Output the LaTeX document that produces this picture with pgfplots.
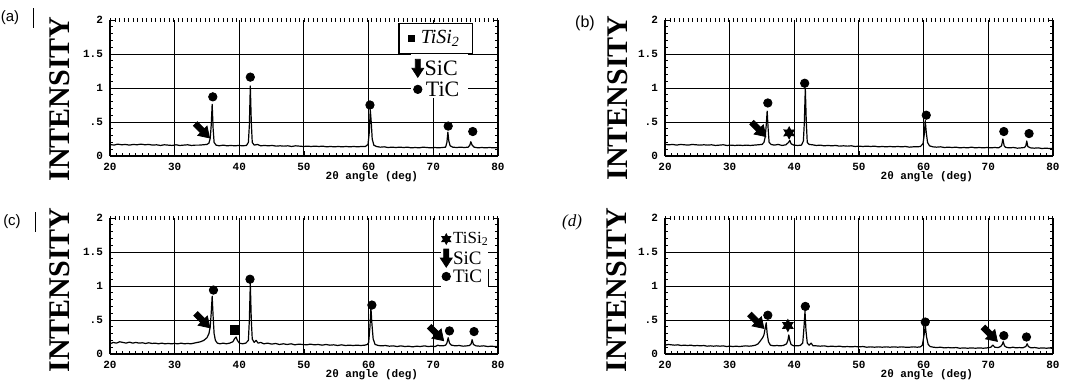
\documentclass[border=0pt]{standalone}
\usepackage{fontspec}
\setmainfont{Liberation Serif}
\setsansfont{Liberation Sans}
\setmonofont{Liberation Mono}
\usepackage{pgfplots}
\pgfplotsset{compat=1.18}
\usetikzlibrary{plotmarks}

\pgfdeclareplotmark{sicarrow}{%
  \pgfpathmoveto{\pgfpoint{-0.28\pgfplotmarksize}{1.0\pgfplotmarksize}}%
  \pgfpathlineto{\pgfpoint{0.28\pgfplotmarksize}{1.0\pgfplotmarksize}}%
  \pgfpathlineto{\pgfpoint{0.28\pgfplotmarksize}{0.0\pgfplotmarksize}}%
  \pgfpathlineto{\pgfpoint{0.65\pgfplotmarksize}{0.0\pgfplotmarksize}}%
  \pgfpathlineto{\pgfpoint{0pt}{-1.0\pgfplotmarksize}}%
  \pgfpathlineto{\pgfpoint{-0.65\pgfplotmarksize}{0.0\pgfplotmarksize}}%
  \pgfpathlineto{\pgfpoint{-0.28\pgfplotmarksize}{0.0\pgfplotmarksize}}%
  \pgfpathclose
  \pgfusepathqfillstroke
}
\pgfdeclareplotmark{fstar}{%
  \pgfpathmoveto{\pgfpointpolar{90}{\pgfplotmarksize}}%
  \pgfpathlineto{\pgfpointpolar{120}{0.55\pgfplotmarksize}}%
  \pgfpathlineto{\pgfpointpolar{150}{\pgfplotmarksize}}%
  \pgfpathlineto{\pgfpointpolar{180}{0.55\pgfplotmarksize}}%
  \pgfpathlineto{\pgfpointpolar{210}{\pgfplotmarksize}}%
  \pgfpathlineto{\pgfpointpolar{240}{0.55\pgfplotmarksize}}%
  \pgfpathlineto{\pgfpointpolar{270}{\pgfplotmarksize}}%
  \pgfpathlineto{\pgfpointpolar{300}{0.55\pgfplotmarksize}}%
  \pgfpathlineto{\pgfpointpolar{330}{\pgfplotmarksize}}%
  \pgfpathlineto{\pgfpointpolar{0}{0.55\pgfplotmarksize}}%
  \pgfpathlineto{\pgfpointpolar{30}{\pgfplotmarksize}}%
  \pgfpathlineto{\pgfpointpolar{60}{0.55\pgfplotmarksize}}%
  \pgfpathclose
  \pgfusepathqfillstroke
}

\newcommand{\tickfont}{\ttfamily\bfseries\fontsize{5.5}{6}\selectfont}
\pgfplotsset{
  xrd/.style={
    scale only axis, width=194pt, height=68pt,
    xmin=20, xmax=80, ymin=0, ymax=2,
    xtick={20,30,...,80},
    ytick={0,0.5,1,1.5,2}, yticklabels={0,.5,1,1.5,2},
    extra y ticks={0.5,1,1.5}, extra y tick labels={},
    extra y tick style={grid=major, major tick length=0pt},
    minor x tick num=9, minor y tick num=4,
    xmajorgrids,
    grid style={black, line width=0.5pt},
    axis x line*=bottom, axis y line*=box,
    axis line style={black, line width=0.6pt},
    tick style={black, line width=0.45pt},
    major tick length=2.5pt, minor tick length=1.6pt,
    tick label style={font=\tickfont},
    /pgf/number format/assume math mode=true,
    xlabel={2θ angle (deg)},
    xlabel style={at={(rel axis cs:0.675,0)}, anchor=north, yshift=-4pt, font=\tickfont},
    clip=false,
  },
  curve/.style={black, line width=0.6pt, line join=round, no marks},
  topdots/.style={black, line width=1.6pt, dash pattern=on 0.55pt off 1.7pt, no marks, forget plot},
  tic/.style={only marks, mark=*, mark size=2.1pt, black},
  sic/.style={only marks, mark=sicarrow, mark size=5pt, black, mark options={rotate=45, fill=black}},
  tisiS/.style={only marks, mark=square*, mark size=1.8pt, black},
  tisiX/.style={only marks, mark=fstar, mark size=3pt, black, mark options={fill=black}},
}

\begin{document}
\begin{tikzpicture}
\useasboundingbox (0,0) rectangle (538.5pt,191pt);

% ---------------- (a) ----------------
\begin{axis}[xrd, at={(55pt,113pt)}, anchor=south west]
\addplot[topdots] coordinates {(20,2) (80,2)};
\fill[white] (axis cs:66.6,0.86) rectangle (axis cs:75.4,1.5);
\filldraw[fill=white, draw=black, line width=0.6pt] (axis cs:64.7,1.51) rectangle (axis cs:76.1,1.95);
\addplot[curve] coordinates {
(20,0.17)(20.6,0.16)(21.2,0.175)(21.8,0.165)(22.4,0.17)(23,0.16)(23.6,0.17)(24.2,0.165)(24.8,0.175)(25.4,0.165)
(26,0.17)(26.6,0.16)(27.2,0.165)(27.8,0.155)(28.4,0.165)(29,0.16)(29.6,0.155)(30.2,0.165)(30.8,0.155)(31.4,0.16)
(32,0.165)(32.6,0.155)(33.2,0.16)(33.8,0.16)(34.4,0.165)(35,0.17)(35.3,0.19)(35.5,0.26)(35.65,0.45)(35.8,0.76)
(35.95,0.4)(36.1,0.2)(36.4,0.16)(36.9,0.15)(37.5,0.16)(38.1,0.15)(38.7,0.155)(39.3,0.15)(39.9,0.155)(40.5,0.15)
(41.1,0.155)(41.4,0.2)(41.55,0.45)(41.7,1.03)(41.85,0.5)(42,0.2)(42.3,0.16)(42.8,0.17)(43.3,0.15)(43.9,0.155)
(44.5,0.15)(45.1,0.155)(45.7,0.145)(46.3,0.15)(46.9,0.145)(47.5,0.15)(48.1,0.14)(48.7,0.15)(49.3,0.145)(49.9,0.14)
(50.5,0.145)(51.1,0.14)(51.7,0.145)(52.3,0.14)(52.9,0.145)(53.5,0.135)(54.1,0.14)(54.7,0.135)(55.3,0.14)(55.9,0.135)
(56.5,0.14)(57.1,0.135)(57.7,0.14)(58.3,0.135)(58.9,0.14)(59.5,0.14)(59.9,0.17)(60.1,0.35)(60.25,0.68)(60.4,0.5)
(60.55,0.25)(60.8,0.16)(61.2,0.14)(61.8,0.13)(62.4,0.135)(63,0.125)(63.6,0.13)(64.2,0.125)(64.8,0.13)(65.4,0.125)
(66,0.13)(66.6,0.12)(67.2,0.125)(67.8,0.12)(68.4,0.13)(69,0.125)(69.6,0.12)(70.2,0.125)(70.8,0.12)(71.4,0.125)
(71.9,0.13)(72.1,0.2)(72.25,0.35)(72.4,0.22)(72.6,0.15)(73,0.13)(73.6,0.125)(74.2,0.13)(74.8,0.125)(75.4,0.13)
(75.65,0.16)(75.8,0.21)(76,0.16)(76.3,0.13)(76.9,0.12)(77.5,0.125)(78.1,0.12)(78.7,0.125)(79.3,0.12)(80,0.12)};
\addplot[tic] coordinates {(35.9,0.87)(41.7,1.16)(60.2,0.75)(72.3,0.44)(76.1,0.36)(67.6,0.98)};
\addplot[sic] coordinates {(34.3,0.37)};
\addplot[only marks, mark=sicarrow, mark size=4.5pt, black, mark options={fill=black}] coordinates {(67.6,1.29)};
\addplot[tisiS, mark size=1.4pt] coordinates {(66.6,1.73)};
\node[anchor=west, inner sep=0pt, font=\fontsize{10}{11}\selectfont\itshape] at (axis cs:68.0,1.73) {TiSi\textsubscript{2}};
\node[anchor=west, inner sep=0pt, font=\fontsize{11}{12}\selectfont] at (axis cs:68.6,1.29) {SiC};
\node[anchor=west, inner sep=0pt, font=\fontsize{11}{12}\selectfont] at (axis cs:68.8,0.98) {TiC};
\end{axis}

% ---------------- (b) ----------------
\begin{axis}[xrd, at={(332.5pt,113pt)}, anchor=south west]
\addplot[topdots] coordinates {(20,2) (80,2)};
\addplot[curve] coordinates {
(20,0.17)(20.6,0.165)(21.2,0.17)(21.8,0.16)(22.4,0.17)(23,0.165)(23.6,0.16)(24.2,0.17)(24.8,0.165)(25.4,0.16)
(26,0.165)(26.6,0.16)(27.2,0.165)(27.8,0.155)(28.4,0.16)(29,0.165)(29.6,0.155)(30.2,0.16)(30.8,0.155)(31.4,0.16)
(32,0.155)(32.6,0.16)(33.2,0.155)(33.8,0.16)(34.4,0.165)(35,0.17)(35.3,0.2)(35.5,0.28)(35.65,0.45)(35.8,0.66)
(35.95,0.4)(36.1,0.2)(36.4,0.17)(36.9,0.16)(37.5,0.17)(38.1,0.155)(38.7,0.165)(39.1,0.2)(39.3,0.23)(39.5,0.18)
(39.9,0.16)(40.5,0.155)(41.1,0.16)(41.4,0.22)(41.55,0.5)(41.7,1.0)(41.85,0.5)(42,0.2)(42.3,0.17)(42.8,0.165)
(43.4,0.155)(44,0.16)(44.6,0.15)(45.2,0.155)(45.8,0.15)(46.4,0.155)(47,0.145)(47.6,0.15)(48.2,0.145)(48.8,0.15)
(49.4,0.14)(50,0.145)(50.6,0.14)(51.2,0.145)(51.8,0.14)(52.4,0.145)(53,0.135)(53.6,0.14)(54.2,0.135)(54.8,0.14)
(55.4,0.135)(56,0.14)(56.6,0.135)(57.2,0.14)(57.8,0.13)(58.4,0.135)(59,0.135)(59.5,0.14)(59.9,0.18)(60.1,0.32)
(60.25,0.52)(60.4,0.35)(60.6,0.2)(60.9,0.15)(61.4,0.135)(62,0.13)(62.6,0.135)(63.2,0.125)(63.8,0.13)(64.4,0.125)
(65,0.13)(65.6,0.12)(66.2,0.125)(66.8,0.12)(67.4,0.13)(68,0.12)(68.6,0.125)(69.2,0.12)(69.8,0.125)(70.4,0.12)
(71,0.125)(71.6,0.12)(72.05,0.15)(72.25,0.25)(72.45,0.15)(72.7,0.125)(73.3,0.12)(73.9,0.125)(74.5,0.115)(75.1,0.12)
(75.6,0.125)(75.8,0.15)(75.95,0.22)(76.1,0.14)(76.5,0.12)(77.1,0.115)(77.7,0.12)(78.3,0.11)(78.9,0.115)(79.5,0.11)(80,0.11)};
\addplot[tic] coordinates {(35.9,0.78)(41.6,1.07)(60.4,0.6)(72.4,0.36)(76.3,0.33)};
\addplot[sic] coordinates {(34.5,0.39)};
\addplot[tisiX] coordinates {(39.2,0.34)};
\end{axis}

% ---------------- (c) ----------------
\begin{axis}[xrd, at={(55pt,14pt)}, anchor=south west]
\addplot[topdots] coordinates {(20,2) (80,2)};
\fill[white] (axis cs:71.2,0.98) rectangle (axis cs:78.5,1.86);
\draw[black, line width=0.6pt] (axis cs:78.5,1.0) -- (axis cs:78.5,1.25);
\addplot[curve] coordinates {
(20,0.15)(20.5,0.17)(21,0.16)(21.5,0.18)(22,0.17)(22.5,0.16)(23,0.175)(23.5,0.16)(24,0.17)(24.5,0.16)
(25,0.165)(25.5,0.155)(26,0.165)(26.5,0.155)(27,0.16)(27.5,0.15)(28,0.16)(28.5,0.15)(29,0.155)(29.5,0.15)
(30,0.155)(30.5,0.15)(31,0.16)(31.5,0.15)(32,0.155)(32.5,0.15)(33,0.16)(33.5,0.17)(34,0.18)(34.5,0.2)
(35,0.24)(35.3,0.3)(35.5,0.4)(35.65,0.6)(35.8,0.85)(35.95,0.55)(36.1,0.3)(36.3,0.2)(36.6,0.16)(37,0.15)
(37.5,0.16)(38,0.15)(38.5,0.16)(39,0.18)(39.3,0.23)(39.5,0.25)(39.7,0.2)(40,0.16)(40.5,0.15)(41,0.16)
(41.4,0.2)(41.55,0.5)(41.7,1.04)(41.85,0.5)(42,0.22)(42.3,0.17)(42.6,0.2)(42.9,0.16)(43.3,0.17)(43.8,0.15)
(44.4,0.16)(45,0.145)(45.6,0.155)(46.2,0.14)(46.8,0.15)(47.4,0.14)(48,0.15)(48.6,0.135)(49.2,0.145)(49.8,0.14)
(50.4,0.135)(51,0.145)(51.6,0.135)(52.2,0.14)(52.8,0.13)(53.4,0.14)(54,0.13)(54.6,0.135)(55.2,0.125)(55.8,0.135)
(56.4,0.125)(57,0.13)(57.6,0.125)(58.2,0.13)(58.8,0.125)(59.4,0.13)(59.8,0.14)(60.0,0.17)(60.2,0.4)(60.35,0.68)
(60.5,0.45)(60.7,0.22)(61,0.14)(61.5,0.125)(62,0.12)(62.6,0.125)(63.2,0.115)(63.8,0.12)(64.4,0.11)(65,0.12)
(65.6,0.11)(66.2,0.115)(66.8,0.105)(67.4,0.115)(68,0.11)(68.6,0.12)(69.2,0.11)(69.8,0.115)(70.3,0.11)(70.7,0.13)
(71,0.12)(71.5,0.12)(71.9,0.13)(72.1,0.16)(72.3,0.24)(72.5,0.16)(72.8,0.13)(73.4,0.12)(74,0.125)(74.6,0.115)
(75.2,0.12)(75.6,0.125)(75.85,0.15)(76,0.21)(76.2,0.14)(76.6,0.12)(77.2,0.115)(77.8,0.12)(78.4,0.11)(79,0.115)(79.5,0.11)(80,0.11)};
\addplot[tic] coordinates {(36.0,0.94)(41.65,1.1)(60.5,0.72)(72.5,0.34)(76.3,0.33)(72.0,1.14)};
\addplot[sic] coordinates {(34.35,0.49)(70.5,0.3)};
\addplot[only marks, mark=sicarrow, mark size=4.5pt, black, mark options={fill=black}] coordinates {(72.0,1.41)};
\addplot[tisiS, mark size=2.2pt] coordinates {(39.35,0.36)};
\addplot[tisiX, mark size=2.6pt] coordinates {(72.0,1.69)};
\node[anchor=west, inner sep=0pt, font=\fontsize{8.5}{9}\selectfont] at (axis cs:73.0,1.69) {TiSi\textsubscript{2}};
\node[anchor=west, inner sep=0pt, font=\fontsize{9.5}{10}\selectfont] at (axis cs:73.0,1.41) {SiC};
\node[anchor=west, inner sep=0pt, font=\fontsize{9.5}{10}\selectfont] at (axis cs:73.0,1.14) {TiC};
\end{axis}

% ---------------- (d) ----------------
\begin{axis}[xrd, at={(332.5pt,14pt)}, anchor=south west]
\addplot[topdots] coordinates {(20,2) (80,2)};
\addplot[curve] coordinates {
(20,0.13)(20.5,0.14)(21,0.135)(21.5,0.13)(22,0.135)(22.5,0.125)(23,0.13)(23.5,0.125)(24,0.13)(24.5,0.12)
(25,0.125)(25.5,0.12)(26,0.125)(26.5,0.115)(27,0.12)(27.5,0.115)(28,0.12)(28.5,0.115)(29,0.12)(29.5,0.11)
(30,0.115)(30.5,0.11)(31,0.115)(31.5,0.11)(32,0.115)(32.5,0.12)(33,0.115)(33.5,0.12)(34,0.13)(34.4,0.15)
(34.8,0.2)(35.1,0.24)(35.3,0.28)(35.5,0.38)(35.65,0.46)(35.8,0.3)(36,0.18)(36.3,0.13)(36.8,0.12)(37.3,0.125)
(37.8,0.12)(38.3,0.125)(38.8,0.15)(39.0,0.2)(39.15,0.28)(39.3,0.2)(39.5,0.14)(39.9,0.12)(40.4,0.12)(40.9,0.125)
(41.3,0.16)(41.5,0.4)(41.65,0.63)(41.8,0.35)(42,0.16)(42.3,0.13)(42.6,0.16)(42.9,0.12)(43.4,0.12)(44,0.115)
(44.6,0.12)(45.2,0.11)(45.8,0.115)(46.4,0.11)(47,0.115)(47.6,0.105)(48.2,0.11)(48.8,0.105)(49.4,0.11)(50,0.105)
(50.6,0.11)(51.2,0.1)(51.8,0.105)(52.4,0.1)(53,0.105)(53.6,0.1)(54.2,0.105)(54.8,0.1)(55.4,0.105)(56,0.1)
(56.6,0.105)(57.2,0.1)(57.8,0.1)(58.4,0.105)(59,0.1)(59.5,0.105)(59.8,0.13)(60.1,0.3)(60.25,0.42)(60.45,0.25)
(60.7,0.14)(61,0.11)(61.5,0.1)(62,0.095)(62.6,0.1)(63.2,0.09)(63.8,0.095)(64.4,0.09)(65,0.095)(65.6,0.085)
(66.2,0.09)(66.8,0.085)(67.4,0.09)(68,0.085)(68.6,0.09)(69.2,0.085)(69.8,0.09)(70.4,0.1)(70.7,0.13)(71,0.1)
(71.5,0.095)(71.9,0.11)(72.15,0.14)(72.3,0.18)(72.5,0.12)(72.8,0.1)(73.3,0.09)(73.8,0.1)(74.3,0.09)(74.8,0.095)
(75.3,0.09)(75.8,0.11)(76.0,0.15)(76.2,0.11)(76.6,0.09)(77.2,0.095)(77.8,0.085)(78.4,0.09)(79,0.085)(79.5,0.09)(80,0.08)};
\addplot[tic] coordinates {(35.9,0.57)(41.7,0.7)(60.25,0.47)(72.4,0.27)(75.9,0.25)};
\addplot[sic] coordinates {(34.2,0.48)(70.3,0.29)};
\addplot[tisiX] coordinates {(39.0,0.42)};
\end{axis}

% ---------------- panel letters and y titles ----------------
\node[font=\sffamily\fontsize{7.5}{8}\selectfont] at (5pt,182pt) {(a)};
\draw[line width=0.5pt] (16.5pt,187pt) -- (16.5pt,177pt);
\node[font=\sffamily\fontsize{8}{9}\selectfont] at (292.5pt,179.5pt) {(b)};
\node[font=\sffamily\fontsize{7.5}{8}\selectfont] at (6pt,80pt) {(c)};
\draw[line width=0.5pt] (17.5pt,85pt) -- (17.5pt,75pt);
\node[font=\fontsize{8.5}{9}\selectfont\itshape] at (286pt,80pt) {(d)};

\node[rotate=90, font=\bfseries\fontsize{15}{16}\selectfont] at (30pt,141.5pt) {INTENSITY};
\node[rotate=90, font=\bfseries\fontsize{15}{16}\selectfont] at (309pt,142pt) {INTENSITY};
\node[rotate=90, font=\bfseries\fontsize{15}{16}\selectfont] at (30pt,46pt) {INTENSITY};
\node[rotate=90, font=\bfseries\fontsize{15}{16}\selectfont] at (308.5pt,46pt) {INTENSITY};
\end{tikzpicture}
\end{document}
